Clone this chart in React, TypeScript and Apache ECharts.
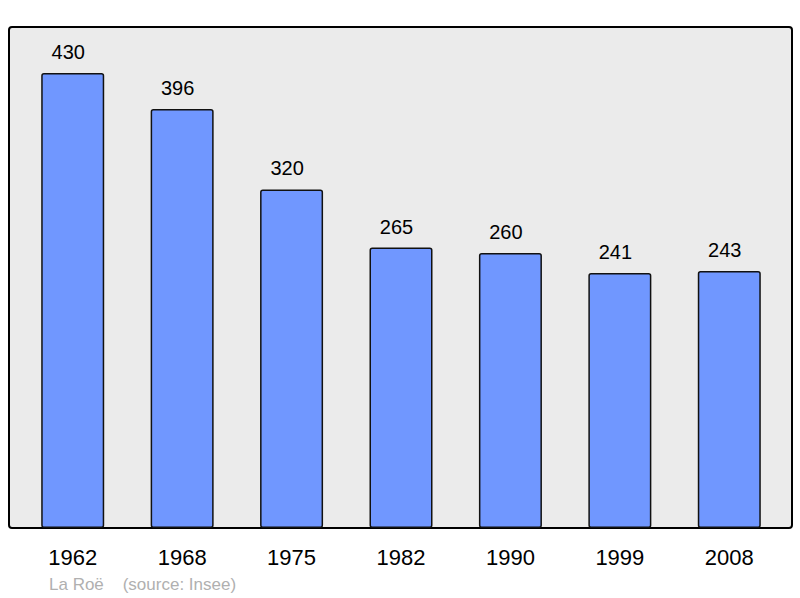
import React, { useEffect, useRef } from "react";
import * as echarts from "echarts";

const years = ["1962", "1968", "1975", "1982", "1990", "1999", "2008"];
const population = [430, 396, 320, 265, 260, 241, 243];
const footerText = "La Roë    (source: Insee)";

export default function App() {
  const ref = useRef<HTMLDivElement>(null);
  useEffect(() => {
    const chart = echarts.init(ref.current!, null, { renderer: "svg" });
    chart.setOption({
      animation: false,
      backgroundColor: "#ffffff",
      textStyle: { fontFamily: "Liberation Sans, Arial, sans-serif" },
      grid: { left: 18, right: 16, top: 27, bottom: 70, containLabel: false },
      graphic: [
        {
          type: "rect",
          z: -10,
          shape: { x: 9, y: 27, width: 783, height: 501, r: 3 },
          style: { fill: "#ebebeb", stroke: "#000000", lineWidth: 2 },
          silent: true,
        },
        {
          type: "text",
          left: 49,
          top: 576,
          style: {
            text: footerText,
            fill: "#b0b0b0",
            font: "17px 'Liberation Sans', Arial, sans-serif",
          },
        },
      ],
      xAxis: {
        type: "category",
        data: years,
        axisLine: { show: false },
        axisTick: { show: false },
        axisLabel: {
          color: "#000000",
          fontSize: 22,
          margin: 18,
          fontFamily: "Liberation Sans, Arial, sans-serif",
        },
      },
      yAxis: {
        type: "value",
        min: 0,
        max: 473.5,
        show: false,
        splitLine: { show: false },
      },
      series: [
        {
          type: "bar",
          data: population,
          barWidth: 63,
          itemStyle: {
            color: "#7097ff",
            borderColor: "#111111",
            borderWidth: 1.5,
            borderRadius: 2,
          },
          label: {
            show: true,
            position: "top",
            distance: 11,
            offset: [-4.5, 0],
            color: "#000000",
            fontSize: 20,
            fontFamily: "Liberation Sans, Arial, sans-serif",
          },
        },
      ],
    });
    return () => chart.dispose();
  }, []);
  return <div ref={ref} style={{ width: 800, height: 598, position: "absolute", left: 0, top: 0 }} />;
}
